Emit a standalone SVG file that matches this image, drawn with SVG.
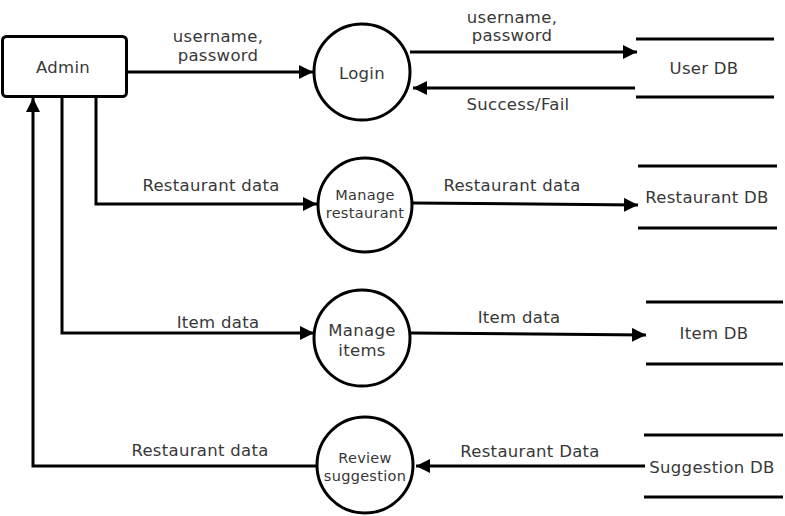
<svg xmlns="http://www.w3.org/2000/svg" width="785" height="516" viewBox="0 0 785 516">
<style>
.ln{fill:none;stroke:#000;stroke-width:3}
.ar{fill:none;stroke:#000;stroke-width:3;marker-end:url(#ah)}
.nd{fill:#fff;stroke:#000;stroke-width:3}
text{font-family:"DejaVu Sans","Liberation Sans",sans-serif;fill:#383838;text-anchor:middle;dominant-baseline:central}
.lb{font-size:16.5px;letter-spacing:0.3px}
.cl{font-size:14.5px;letter-spacing:0.3px}
</style>
<defs>
<marker id="ah" markerUnits="userSpaceOnUse" markerWidth="14" markerHeight="14" refX="14" refY="7" orient="auto">
<path d="M0,0 L14,7 L0,14 z" fill="#000"/>
</marker>
</defs>
<rect width="785" height="516" fill="#fff"/>
<g id="connectors">
<path class="ar" d="M127,72 L313,72"/>
<text class="lb" x="218" y="36">username,</text>
<text class="lb" x="218" y="55">password</text>
<path class="ar" d="M410,52 L637,52"/>
<text class="lb" x="512" y="17">username,</text>
<text class="lb" x="512" y="35">password</text>
<path class="ar" d="M635,88 L413,88"/>
<text class="lb" x="518" y="104">Success/Fail</text>
<path class="ar" d="M96,97 L96,204 L317,204"/>
<text class="lb" x="211" y="185">Restaurant data</text>
<path class="ar" d="M412,203 L638,205"/>
<text class="lb" x="512" y="185">Restaurant data</text>
<path class="ar" d="M62,97 L62,333 L314,333"/>
<text class="lb" x="218" y="322">Item data</text>
<path class="ar" d="M411,333 L646,335"/>
<text class="lb" x="519" y="317">Item data</text>
<path class="ar" d="M645,466 L416,466"/>
<text class="lb" x="530" y="451">Restaurant Data</text>
<path class="ar" d="M317,466 L33,466 L33,98"/>
<text class="lb" x="200" y="450">Restaurant data</text>
</g>
<g id="admin">
<rect class="nd" x="2.5" y="36.5" width="124" height="60" rx="4"/>
<text class="lb" x="63" y="67">Admin</text>
</g>
<g id="login">
<circle class="nd" cx="362" cy="72" r="48"/>
<text class="lb" x="362" y="73">Login</text>
</g>
<g id="manage-restaurant">
<circle class="nd" cx="365" cy="205" r="47"/>
<text class="cl" x="365" y="195">Manage</text>
<text class="cl" x="365" y="213">restaurant</text>
</g>
<g id="manage-items">
<circle class="nd" cx="362" cy="338" r="48"/>
<text class="lb" x="362" y="330">Manage</text>
<text class="lb" x="362" y="350">items</text>
</g>
<g id="review-suggestion">
<circle class="nd" cx="365" cy="465" r="48"/>
<text class="cl" x="365" y="458">Review</text>
<text class="cl" x="365" y="476">suggestion</text>
</g>
<g id="user-db">
<path class="ln" d="M636,39 L774,39 M636,97 L774,97"/>
<text class="lb" x="704" y="68">User DB</text>
</g>
<g id="restaurant-db">
<path class="ln" d="M638,166 L777,166 M638,228 L777,228"/>
<text class="lb" x="707" y="197">Restaurant DB</text>
</g>
<g id="item-db">
<path class="ln" d="M646,302 L783,302 M646,364 L783,364"/>
<text class="lb" x="714" y="333">Item DB</text>
</g>
<g id="suggestion-db">
<path class="ln" d="M644,435 L783,435 M644,497 L783,497"/>
<text class="lb" x="712" y="467">Suggestion DB</text>
</g>
</svg>
